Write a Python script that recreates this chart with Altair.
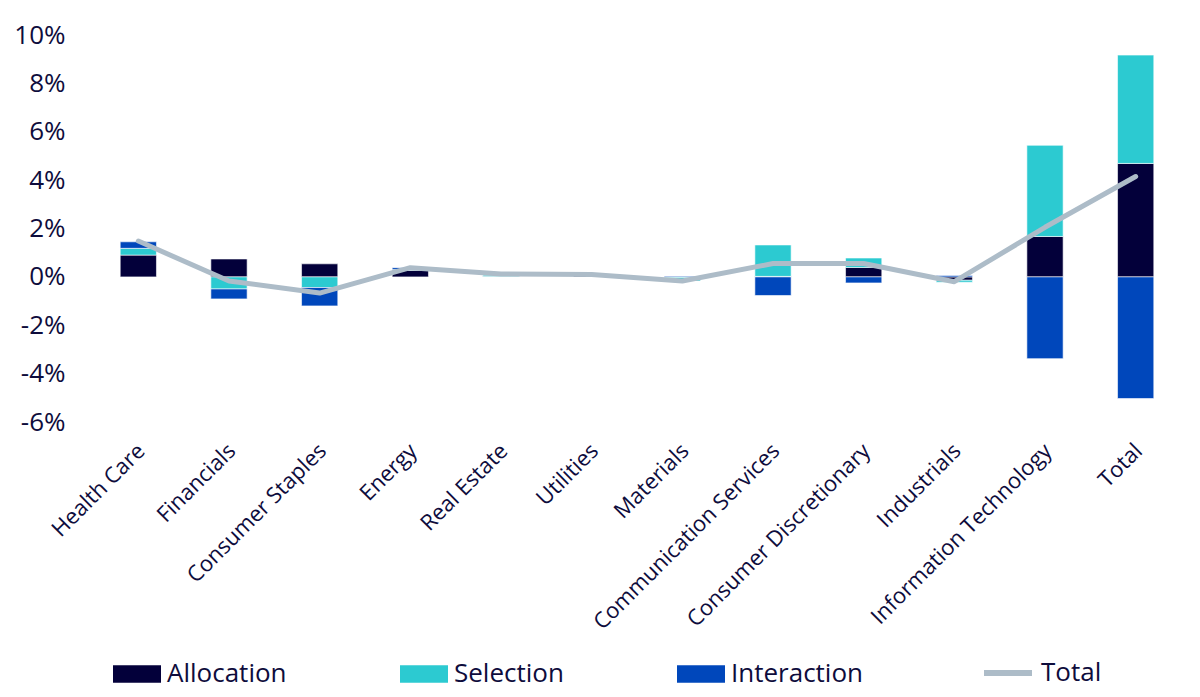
import altair as alt
import pandas as pd

categories = ["Health Care", "Financials", "Consumer Staples", "Energy", "Real Estate",
              "Utilities", "Materials", "Communication Services", "Consumer Discretionary",
              "Industrials", "Information Technology", "Total"]
allocation = [0.90, 0.74, 0.54, 0.27, 0.02, 0.05, -0.02, 0.02, 0.39, -0.14, 1.67, 4.69]
selection = [0.28, -0.50, -0.44, 0.03, 0.06, 0.03, -0.15, 1.30, 0.39, -0.08, 3.77, 4.48]
interaction = [0.27, -0.41, -0.76, 0.08, 0.04, 0.02, 0.03, -0.77, -0.25, 0.06, -3.38, -5.03]
total = [1.48, -0.17, -0.67, 0.38, 0.12, 0.10, -0.17, 0.55, 0.55, -0.20, 2.05, 4.15]

bar_series = ["Allocation", "Selection", "Interaction"]
bar_colors = ["#03003a", "#2ccad1", "#0047bb"]
line_series = ["Total"]
line_colors = ["#adbcc8"]
y_ticks = [-6, -4, -2, 0, 2, 4, 6, 8, 10]

rows = []
for i, c in enumerate(categories):
    for j, (name, vals) in enumerate(zip(bar_series, [allocation, selection, interaction])):
        rows.append({"category": c, "series": name, "value": vals[i], "ord": j})
bars_df = pd.DataFrame(rows)
line_df = pd.DataFrame({"category": categories, "value": total, "series": "Total"})

FONT = "Open Sans"
TXT = "#0e0c3c"

x_enc = alt.X("category:N", sort=categories, title=None,
              scale=alt.Scale(paddingInner=0.6, paddingOuter=0.3),
              axis=alt.Axis(labelAngle=-45, labelAlign="right", labelBaseline="middle",
                            labelFontSize=22, labelFont=FONT, labelColor=TXT, labelLimit=0,
                            domain=False, ticks=False, labelPadding=25, labelOffset=3,
                            grid=False))
y_scale = alt.Scale(domain=[-6, 10], nice=False, zero=False)

rect_path = "M-1,-0.36H1V0.36H-1Z"

bar_legend = alt.Legend(
    title=None, orient="none", direction="horizontal", columns=3,
    legendX=20, legendY=615, columnPadding=113, labelOffset=6,
    labelFontSize=26, labelFont=FONT, labelColor=TXT, symbolSize=2304,
    symbolType=rect_path, symbolStrokeWidth=0, symbolOpacity=1, labelLimit=0,
)
line_legend = alt.Legend(
    title=None, orient="none", direction="horizontal",
    legendX=888, legendY=611, labelOffset=6,
    labelFontSize=26, labelFont=FONT, labelColor=TXT, symbolSize=2304,
    symbolType="stroke", symbolStrokeWidth=6, symbolOpacity=1, labelLimit=0,
)

bars = alt.Chart(bars_df).mark_bar(stroke="white", strokeWidth=0.6).encode(
    x=x_enc,
    y=alt.Y("value:Q", stack="zero", scale=y_scale, title=None,
            axis=alt.Axis(values=y_ticks, labelExpr="datum.value + '%'",
                          labelFontSize=26, labelFont=FONT, labelColor=TXT,
                          domain=False, ticks=False, grid=False, labelPadding=28)),
    fill=alt.Fill("series:N", scale=alt.Scale(domain=bar_series, range=bar_colors),
                  legend=bar_legend),
    order=alt.Order("ord:Q"),
)

line = alt.Chart(line_df).mark_line(strokeWidth=5, strokeCap="round", strokeJoin="round").encode(
    x=alt.X("category:N", sort=categories),
    y=alt.Y("value:Q", scale=y_scale),
    stroke=alt.Stroke("series:N", scale=alt.Scale(domain=line_series, range=line_colors),
                      legend=line_legend),
)

chart = alt.layer(bars, line).properties(
    width=1088, height=387,
    autosize=alt.AutoSizeParams(type="none"),
    padding={"left": 85, "top": 27, "right": 6, "bottom": 274},
).configure_view(stroke=None)

chart.save("out.html", embed_options={"renderer": "svg", "actions": False})
